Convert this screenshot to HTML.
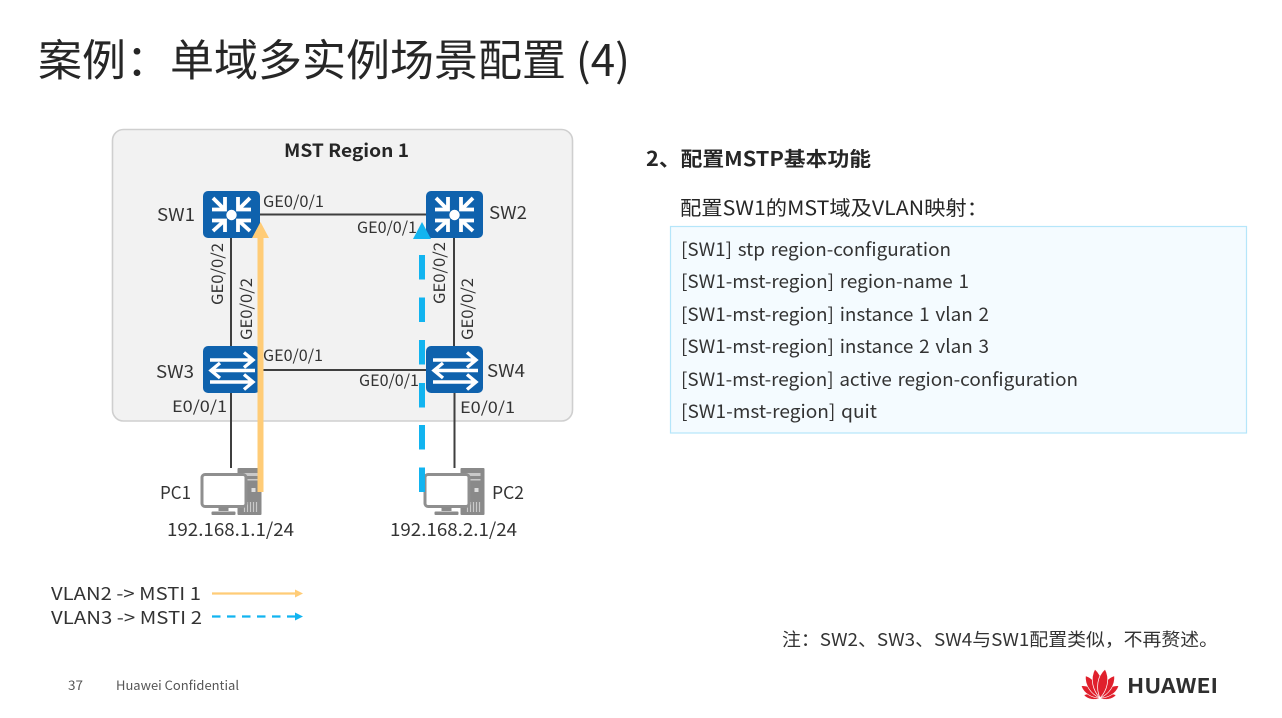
<!DOCTYPE html>
<html lang="zh-CN"><head><meta charset="utf-8"><title>案例&#xFF1A;单域多实例场景配置 (4)</title>
<style>
html,body{margin:0;padding:0;background:#fff;width:1282px;height:718px;overflow:hidden}
svg{display:block;filter:blur(.35px)}
text{font-family:"Noto Sans CJK SC","Liberation Sans",sans-serif;fill:#333}
.l{font-size:15.5px}
.code{font-size:18.5px;word-spacing:1.5px}
</style></head><body>
<svg width="1282" height="718" viewBox="0 0 1282 718" xmlns="http://www.w3.org/2000/svg">
<defs>
<g id="sw"><rect width="57" height="47" rx="5" fill="#0f62ad"/></g>
<g id="router">
<use href="#sw"/>
<g fill="none" stroke="#fff" stroke-width="3.8">
<path d="M10 7 L21 18 M9 18.500 H22 V6"/>
<path d="M47 7 L36 18 M48 18.500 H35 V6"/>
<path d="M10 40 L21 30 M9 29.500 H22 V41"/>
<path d="M47 40 L36 30 M48 29.500 H35 V41"/>
</g>
<circle cx="28.500" cy="24" r="5.200" fill="#fff"/>
</g>
<g id="switch">
<use href="#sw"/>
<g fill="none" stroke="#fff" stroke-width="3.400">
<path d="M7 14 H49 M41 6.500 L50 14 L41 21.500"/>
<path d="M52 24.500 H9 M17 17 L8 24.500 L17 32"/>
<path d="M7 36 H49 M41 28.500 L50 36 L41 43.500"/>
</g>
</g>
<g id="pc">
<rect x="37" y="0" width="24" height="47" rx="1" fill="#8a8a8a"/>
<rect x="41" y="5" width="16" height="3" fill="#c9c9c9"/>
<rect x="41" y="11" width="16" height="1.500" fill="#c9c9c9"/>
<rect x="51" y="20" width="4" height="4" fill="#ddd"/>
<path d="M44 34v10M47 34v10M50 34v10M53 34v10M56 34v10" stroke="#c9c9c9" stroke-width="1.200"/>
<rect x="1.500" y="6.500" width="44" height="32" rx="3" fill="#fff" stroke="#8f8f8f" stroke-width="3"/>
<path d="M18 39h10v4H18z" fill="#8a8a8a"/>
<rect x="11" y="43.500" width="24" height="3.500" rx="1" fill="#8a8a8a"/>
</g>
<path id="petal" d="M0 0 C-5.500 -8 -6.500 -20 0 -28 C6.500 -20 5.500 -8 0 0Z" stroke="#fff" stroke-width=".7"/>
</defs>

<text x="38" y="76" font-size="43.500" textLength="592" lengthAdjust="spacingAndGlyphs" style="fill:#262626">案例&#xFF1A;单域多实例场景配置 (4)</text>

<rect x="112.500" y="129.500" width="460" height="291.500" rx="11" fill="#f2f2f2" stroke="#cfcfcf" stroke-width="1.600"/>
<text x="284" y="157" font-size="18" font-weight="700" textLength="125" lengthAdjust="spacingAndGlyphs" style="fill:#262626">MST Region 1</text>

<g stroke="#3f3f3f" stroke-width="2" fill="none">
<path d="M260 214.500H426"/>
<path d="M260 370H426"/>
<path d="M231 238V346"/>
<path d="M454 238V346"/>
<path d="M231 393V468"/>
<path d="M454.500 393V468"/>
</g>

<use href="#router" x="203" y="191"/>
<use href="#router" x="426" y="191"/>
<use href="#switch" x="203" y="346"/>
<use href="#switch" x="426" y="346"/>
<use href="#pc" x="200.500" y="468"/>
<use href="#pc" x="423.500" y="468"/>

<path d="M257.500 492V238H252L260.500 222L269 238H263.500V492Z" fill="#ffcc77"/>
<path d="M422 222L431 239H413Z" fill="#12b4f0"/>
<g fill="#12b4f0">
<rect x="419" y="255" width="6" height="24.500"/>
<rect x="419" y="297.500" width="6" height="24.500"/>
<rect x="419" y="340" width="6" height="24.500"/>
<rect x="419" y="383" width="6" height="24.500"/>
<rect x="419" y="425" width="6" height="24.500"/>
<rect x="419" y="467.500" width="6" height="24.500"/>
</g>

<text x="157" y="221" font-size="17.500" textLength="38" lengthAdjust="spacingAndGlyphs">SW1</text>
<text x="489" y="219" font-size="17.500" textLength="38" lengthAdjust="spacingAndGlyphs">SW2</text>
<text x="156" y="378" font-size="17.500" textLength="38" lengthAdjust="spacingAndGlyphs">SW3</text>
<text x="487" y="377" font-size="17.500" textLength="38" lengthAdjust="spacingAndGlyphs">SW4</text>

<text class="l" x="263" y="207" textLength="61" lengthAdjust="spacingAndGlyphs">GE0/0/1</text>
<text class="l" x="357" y="233" textLength="60" lengthAdjust="spacingAndGlyphs">GE0/0/1</text>
<text class="l" x="263" y="361" textLength="60" lengthAdjust="spacingAndGlyphs">GE0/0/1</text>
<text class="l" x="359" y="386" textLength="60" lengthAdjust="spacingAndGlyphs">GE0/0/1</text>
<text class="l" x="172" y="412" textLength="55" lengthAdjust="spacingAndGlyphs">E0/0/1</text>
<text class="l" x="460" y="413" textLength="55" lengthAdjust="spacingAndGlyphs">E0/0/1</text>

<text class="l" transform="translate(223,305) rotate(-90)" textLength="62" lengthAdjust="spacingAndGlyphs">GE0/0/2</text>
<text class="l" transform="translate(252,340) rotate(-90)" textLength="62" lengthAdjust="spacingAndGlyphs">GE0/0/2</text>
<text class="l" transform="translate(445,304) rotate(-90)" textLength="62" lengthAdjust="spacingAndGlyphs">GE0/0/2</text>
<text class="l" transform="translate(473,340) rotate(-90)" textLength="62" lengthAdjust="spacingAndGlyphs">GE0/0/2</text>

<text x="160" y="499" font-size="17.500" textLength="31" lengthAdjust="spacingAndGlyphs">PC1</text>
<text x="492" y="499" font-size="17.500" textLength="32" lengthAdjust="spacingAndGlyphs">PC2</text>
<text x="167" y="536" font-size="18" textLength="127" lengthAdjust="spacingAndGlyphs">192.168.1.1/24</text>
<text x="390" y="536" font-size="18" textLength="127" lengthAdjust="spacingAndGlyphs">192.168.2.1/24</text>

<text x="51" y="600" font-size="18" textLength="150" lengthAdjust="spacingAndGlyphs">VLAN2 -&gt; MSTI 1</text>
<text x="51" y="624" font-size="18" textLength="151" lengthAdjust="spacingAndGlyphs">VLAN3 -&gt; MSTI 2</text>
<path d="M212 593.500H296" stroke="#ffcc77" stroke-width="2.200"/>
<path d="M295 589.500L303 593.500L295 597.500Z" fill="#ffcc77"/>
<path d="M212 616.500H296" stroke="#12b4f0" stroke-width="2.200" stroke-dasharray="8.500 6.500"/>
<path d="M295 612.500L303 616.500L295 620.500Z" fill="#12b4f0"/>

<text x="646" y="166" font-size="20" font-weight="700" textLength="225" lengthAdjust="spacingAndGlyphs" style="fill:#262626">2、配置MSTP基本功能</text>
<text x="680" y="215" font-size="20" textLength="308" lengthAdjust="spacingAndGlyphs" style="fill:#262626">配置SW1的MST域及VLAN映射&#xFF1A;</text>

<rect x="670.500" y="226.500" width="576" height="206.500" fill="#f4fbff" stroke="#b5e6fa" stroke-width="1.200"/>
<text class="code" x="681" y="256" textLength="270" lengthAdjust="spacingAndGlyphs">[SW1] stp region-configuration</text>
<text class="code" x="681" y="288" textLength="288" lengthAdjust="spacingAndGlyphs">[SW1-mst-region] region-name 1</text>
<text class="code" x="681" y="321" textLength="308" lengthAdjust="spacingAndGlyphs">[SW1-mst-region] instance 1 vlan 2</text>
<text class="code" x="681" y="353" textLength="308" lengthAdjust="spacingAndGlyphs">[SW1-mst-region] instance 2 vlan 3</text>
<text class="code" x="681" y="386" textLength="397" lengthAdjust="spacingAndGlyphs">[SW1-mst-region] active region-configuration</text>
<text class="code" x="681" y="418" textLength="196" lengthAdjust="spacingAndGlyphs">[SW1-mst-region] quit</text>

<text x="782" y="646" font-size="18" textLength="436" lengthAdjust="spacingAndGlyphs">注&#xFF1A;SW2、SW3、SW4与SW1配置类似&#xFF0C;不再赘述。</text>

<text x="68" y="690" font-size="12.500" textLength="15" lengthAdjust="spacingAndGlyphs" style="fill:#555">37</text>
<text x="116" y="690" font-size="12.500" textLength="123" lengthAdjust="spacingAndGlyphs" style="fill:#555">Huawei Confidential</text>

<g transform="translate(1100,698)" fill="#e0202c">
<use href="#petal" transform="rotate(-80) scale(.58)"/>
<use href="#petal" transform="rotate(80) scale(.58)"/>
<use href="#petal" transform="rotate(-57) scale(.8)"/>
<use href="#petal" transform="rotate(57) scale(.8)"/>
<use href="#petal" transform="rotate(-33) scale(.95)"/>
<use href="#petal" transform="rotate(33) scale(.95)"/>
<use href="#petal" transform="rotate(-10) scale(1.050)"/>
<use href="#petal" transform="rotate(10) scale(1.050)"/>
</g>
<text x="1127" y="693" font-size="20.500" font-weight="700" textLength="91" lengthAdjust="spacingAndGlyphs" style="fill:#2f2f2f">HUAWEI</text>
</svg>
</body></html>
